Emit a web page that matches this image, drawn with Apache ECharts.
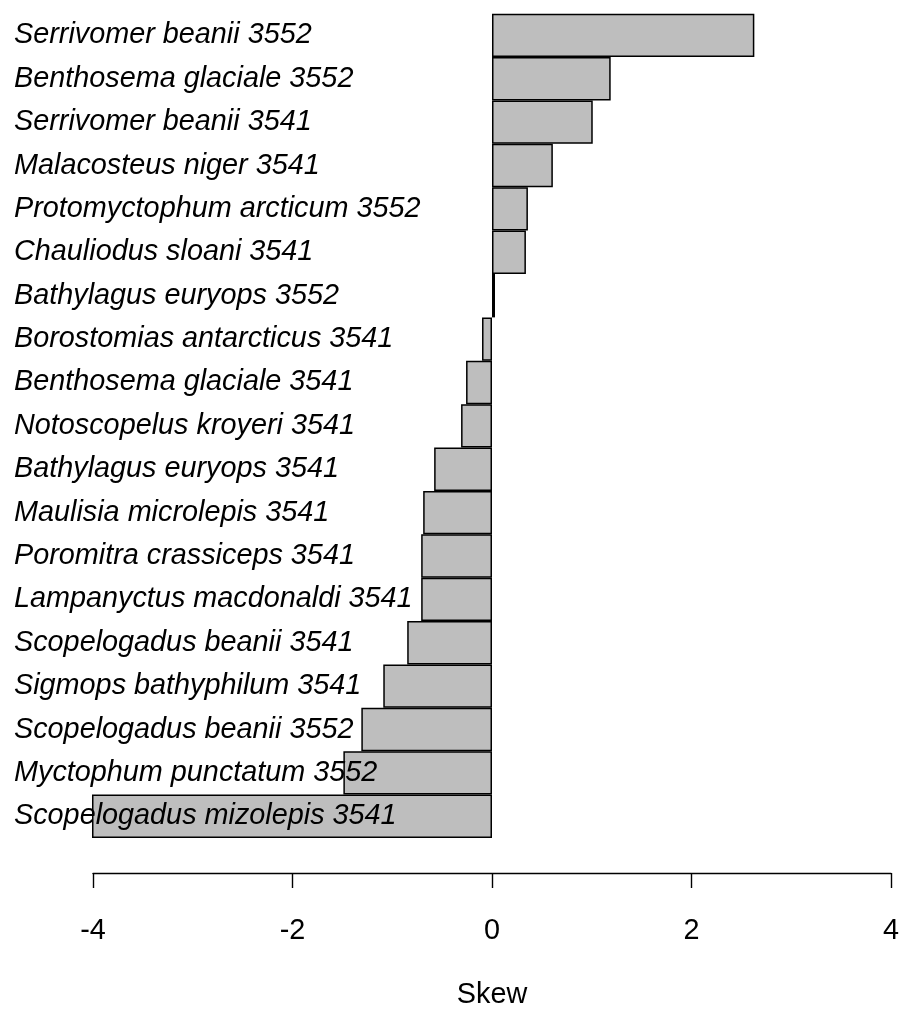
<!DOCTYPE html>
<html>
<head>
<meta charset="utf-8">
<script src="https://cdn.jsdelivr.net/npm/echarts@6/dist/echarts.min.js"></script>
<style>
html,body{margin:0;padding:0;background:#fff;}
#chart{width:902px;height:1015px;}
</style>
</head>
<body>
<div id="chart"></div>
<script>
const categories = [
  "Serrivomer beanii 3552",
  "Benthosema glaciale 3552",
  "Serrivomer beanii 3541",
  "Malacosteus niger 3541",
  "Protomyctophum arcticum 3552",
  "Chauliodus sloani 3541",
  "Bathylagus euryops 3552",
  "Borostomias antarcticus 3541",
  "Benthosema glaciale 3541",
  "Notoscopelus kroyeri 3541",
  "Bathylagus euryops 3541",
  "Maulisia microlepis 3541",
  "Poromitra crassiceps 3541",
  "Lampanyctus macdonaldi 3541",
  "Scopelogadus beanii 3541",
  "Sigmops bathyphilum 3541",
  "Scopelogadus beanii 3552",
  "Myctophum punctatum 3552",
  "Scopelogadus mizolepis 3541"
];
const skewValues = [2.63, 1.19, 1.01, 0.61, 0.36, 0.34, 0.03, -0.10, -0.26, -0.31, -0.58, -0.69, -0.71, -0.71, -0.85, -1.09, -1.31, -1.49, -4.01];
const xTicks = [-4, -2, 0, 2, 4];
const xTitle = "Skew";

const chart = echarts.init(document.getElementById('chart'), null, {renderer: 'canvas'});
const font = '"Liberation Sans", Arial, Helvetica, sans-serif';
chart.setOption({
  animation: false,
  backgroundColor: '#ffffff',
  grid: {left: 93, right: 10, top: 13.7, bottom: 175, containLabel: false},
  xAxis: {
    type: 'value',
    min: xTicks[0],
    max: xTicks[xTicks.length - 1],
    interval: 2,
    offset: 35,
    axisLine: {show: true, lineStyle: {color: '#000', width: 1.4}},
    axisTick: {show: true, inside: false, length: 15, lineStyle: {color: '#000', width: 1.4}},
    splitLine: {show: false},
    axisLabel: {color: '#000', fontSize: 28.8, fontFamily: font, margin: 44},
    name: xTitle,
    nameLocation: 'middle',
    nameGap: 108,
    nameTextStyle: {color: '#000', fontSize: 28.8, fontFamily: font}
  },
  yAxis: {
    type: 'category',
    data: categories,
    inverse: true,
    z: 10,
    axisLine: {show: false},
    axisTick: {show: false},
    splitLine: {show: false},
    axisLabel: {
      align: 'left',
      margin: 79,
      color: '#000',
      fontSize: 28.8,
      fontStyle: 'italic',
      fontFamily: font
    }
  },
  series: [{
    type: 'bar',
    data: skewValues,
    clip: false,
    barWidth: '100%',
    barCategoryGap: 0,
    itemStyle: {color: '#bebebe', borderColor: '#000', borderWidth: 1.5}
  }]
});
</script>
</body>
</html>
